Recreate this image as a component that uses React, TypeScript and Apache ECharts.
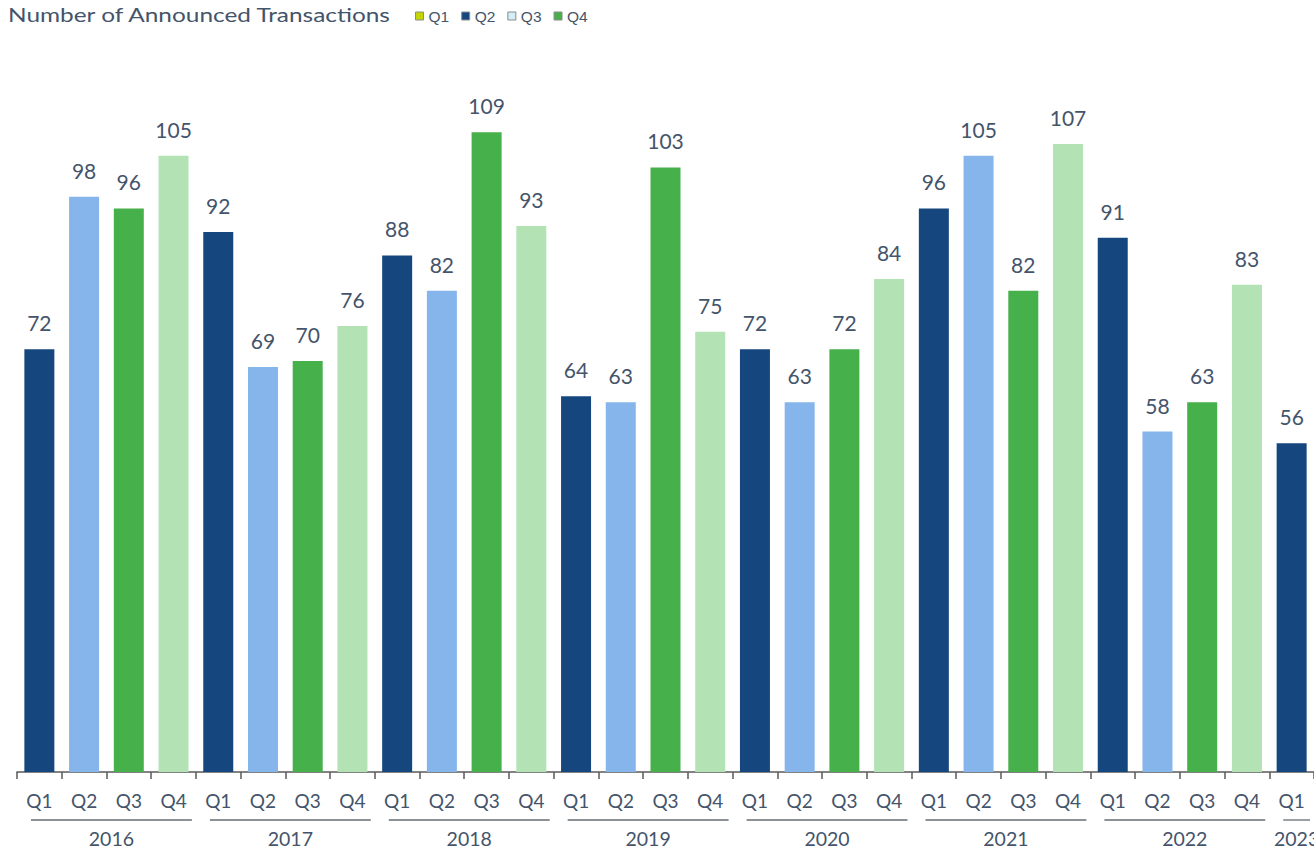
import React, { useEffect, useRef } from "react";
import * as echarts from "echarts";

const quarters = ["Q1", "Q2", "Q3", "Q4"];
const categories = [
  "Q1", "Q2", "Q3", "Q4", "Q1", "Q2", "Q3", "Q4", "Q1", "Q2", "Q3", "Q4",
  "Q1", "Q2", "Q3", "Q4", "Q1", "Q2", "Q3", "Q4", "Q1", "Q2", "Q3", "Q4",
  "Q1", "Q2", "Q3", "Q4", "Q1",
];
const values = [
  72, 98, 96, 105,
  92, 69, 70, 76,
  88, 82, 109, 93,
  64, 63, 103, 75,
  72, 63, 72, 84,
  96, 105, 82, 107,
  91, 58, 63, 83,
  56,
];
const years = ["2016", "2017", "2018", "2019", "2020", "2021", "2022", "2023"];
const yearStart = [0, 4, 8, 12, 16, 20, 24, 28];
const yearEnd = [3, 7, 11, 15, 19, 23, 27, 28];
const titleText = "Number of Announced Transactions";

const barColors = ["#15477e", "#85b5eb", "#46b04b", "#b3e2b5"];
const legendColors = ["#c4d600", "#15477e", "#d3eef9", "#46b04b"];

const textColor = "#44546a";
const font = "Lato";

export default function App() {
  const ref = useRef<HTMLDivElement>(null);
  useEffect(() => {
    if (!ref.current) return;
    const chart = echarts.init(ref.current, null, { renderer: "svg" });
    const barSeries = quarters.map((q, qi) => ({
      name: q,
      type: "bar",
      stack: "all",
      barWidth: 30,
      itemStyle: { color: barColors[qi] },
      label: {
        show: true,
        position: "top",
        distance: 16,
        color: textColor,
        fontSize: 21,
        fontFamily: font,
      },
      data: values.map((v, i) => (i % 4 === qi ? v : "-")),
    }));
    const yearSeries = {
      type: "custom",
      silent: true,
      clip: false,
      encode: { x: [0, 1], y: 2 },
      data: years.map((_, i) => [yearStart[i], yearEnd[i], 0]),
      renderItem: (params: any, api: any) => {
        const s = api.value(0);
        const e = api.value(1);
        const p0 = api.coord([s, 0]);
        const p1 = api.coord([e, 0]);
        const w = api.size([1, 0])[0];
        const x0 = p0[0] - w / 2 + 14;
        const x1 = p1[0] + w / 2 - 4;
        const y = p0[1];
        return {
          type: "group",
          children: [
            {
              type: "line",
              shape: { x1: x0, y1: y + 48, x2: x1, y2: y + 48 },
              style: { stroke: "#666c72", lineWidth: 1.3 },
            },
            {
              type: "text",
              style: {
                text: years[params.dataIndex],
                x: (x0 + x1) / 2,
                y: y + 66,
                align: "center",
                verticalAlign: "middle",
                fill: textColor,
                fontSize: 19.5,
                fontFamily: font,
              },
            },
          ],
        };
      },
    };
    chart.setOption({
      animation: false,
      graphic: [
        {
          type: "text",
          x: 8,
          y: 14,
          scaleX: 1.22,
          style: {
            text: titleText,
            align: "left",
            verticalAlign: "middle",
            fill: textColor,
            fontSize: 20,
            fontFamily: font,
          },
        },
      ],
      legend: {
        left: 415,
        top: 8,
        padding: 0,
        icon: "rect",
        itemWidth: 8,
        itemHeight: 8,
        itemGap: 12,
        textStyle: {
          color: textColor,
          fontSize: 15.5,
          fontFamily: "Liberation Sans",
        },
        data: quarters.map((q, qi) => ({
          name: q,
          itemStyle: {
            color: legendColors[qi],
            borderColor: "#8c8c8c",
            borderWidth: 1,
          },
        })),
      },
      grid: { left: 17, right: 0, top: 67.6, bottom: 77, containLabel: false },
      xAxis: {
        type: "category",
        data: categories,
        axisLine: { lineStyle: { color: "#595959", width: 1.5 } },
        axisTick: { show: true, length: 7, lineStyle: { color: "#595959", width: 1.5 } },
        axisLabel: {
          color: textColor,
          fontSize: 19,
          fontFamily: font,
          margin: 19,
          interval: 0,
        },
      },
      yAxis: {
        type: "value",
        show: false,
        min: 0,
        max: 120,
        splitLine: { show: false },
      },
      series: [...barSeries, yearSeries],
    });
    return () => chart.dispose();
  }, []);
  return (
    <div
      ref={ref}
      style={{ position: "fixed", left: 0, top: 0, width: 1314, height: 849, background: "#fff" }}
    />
  );
}
